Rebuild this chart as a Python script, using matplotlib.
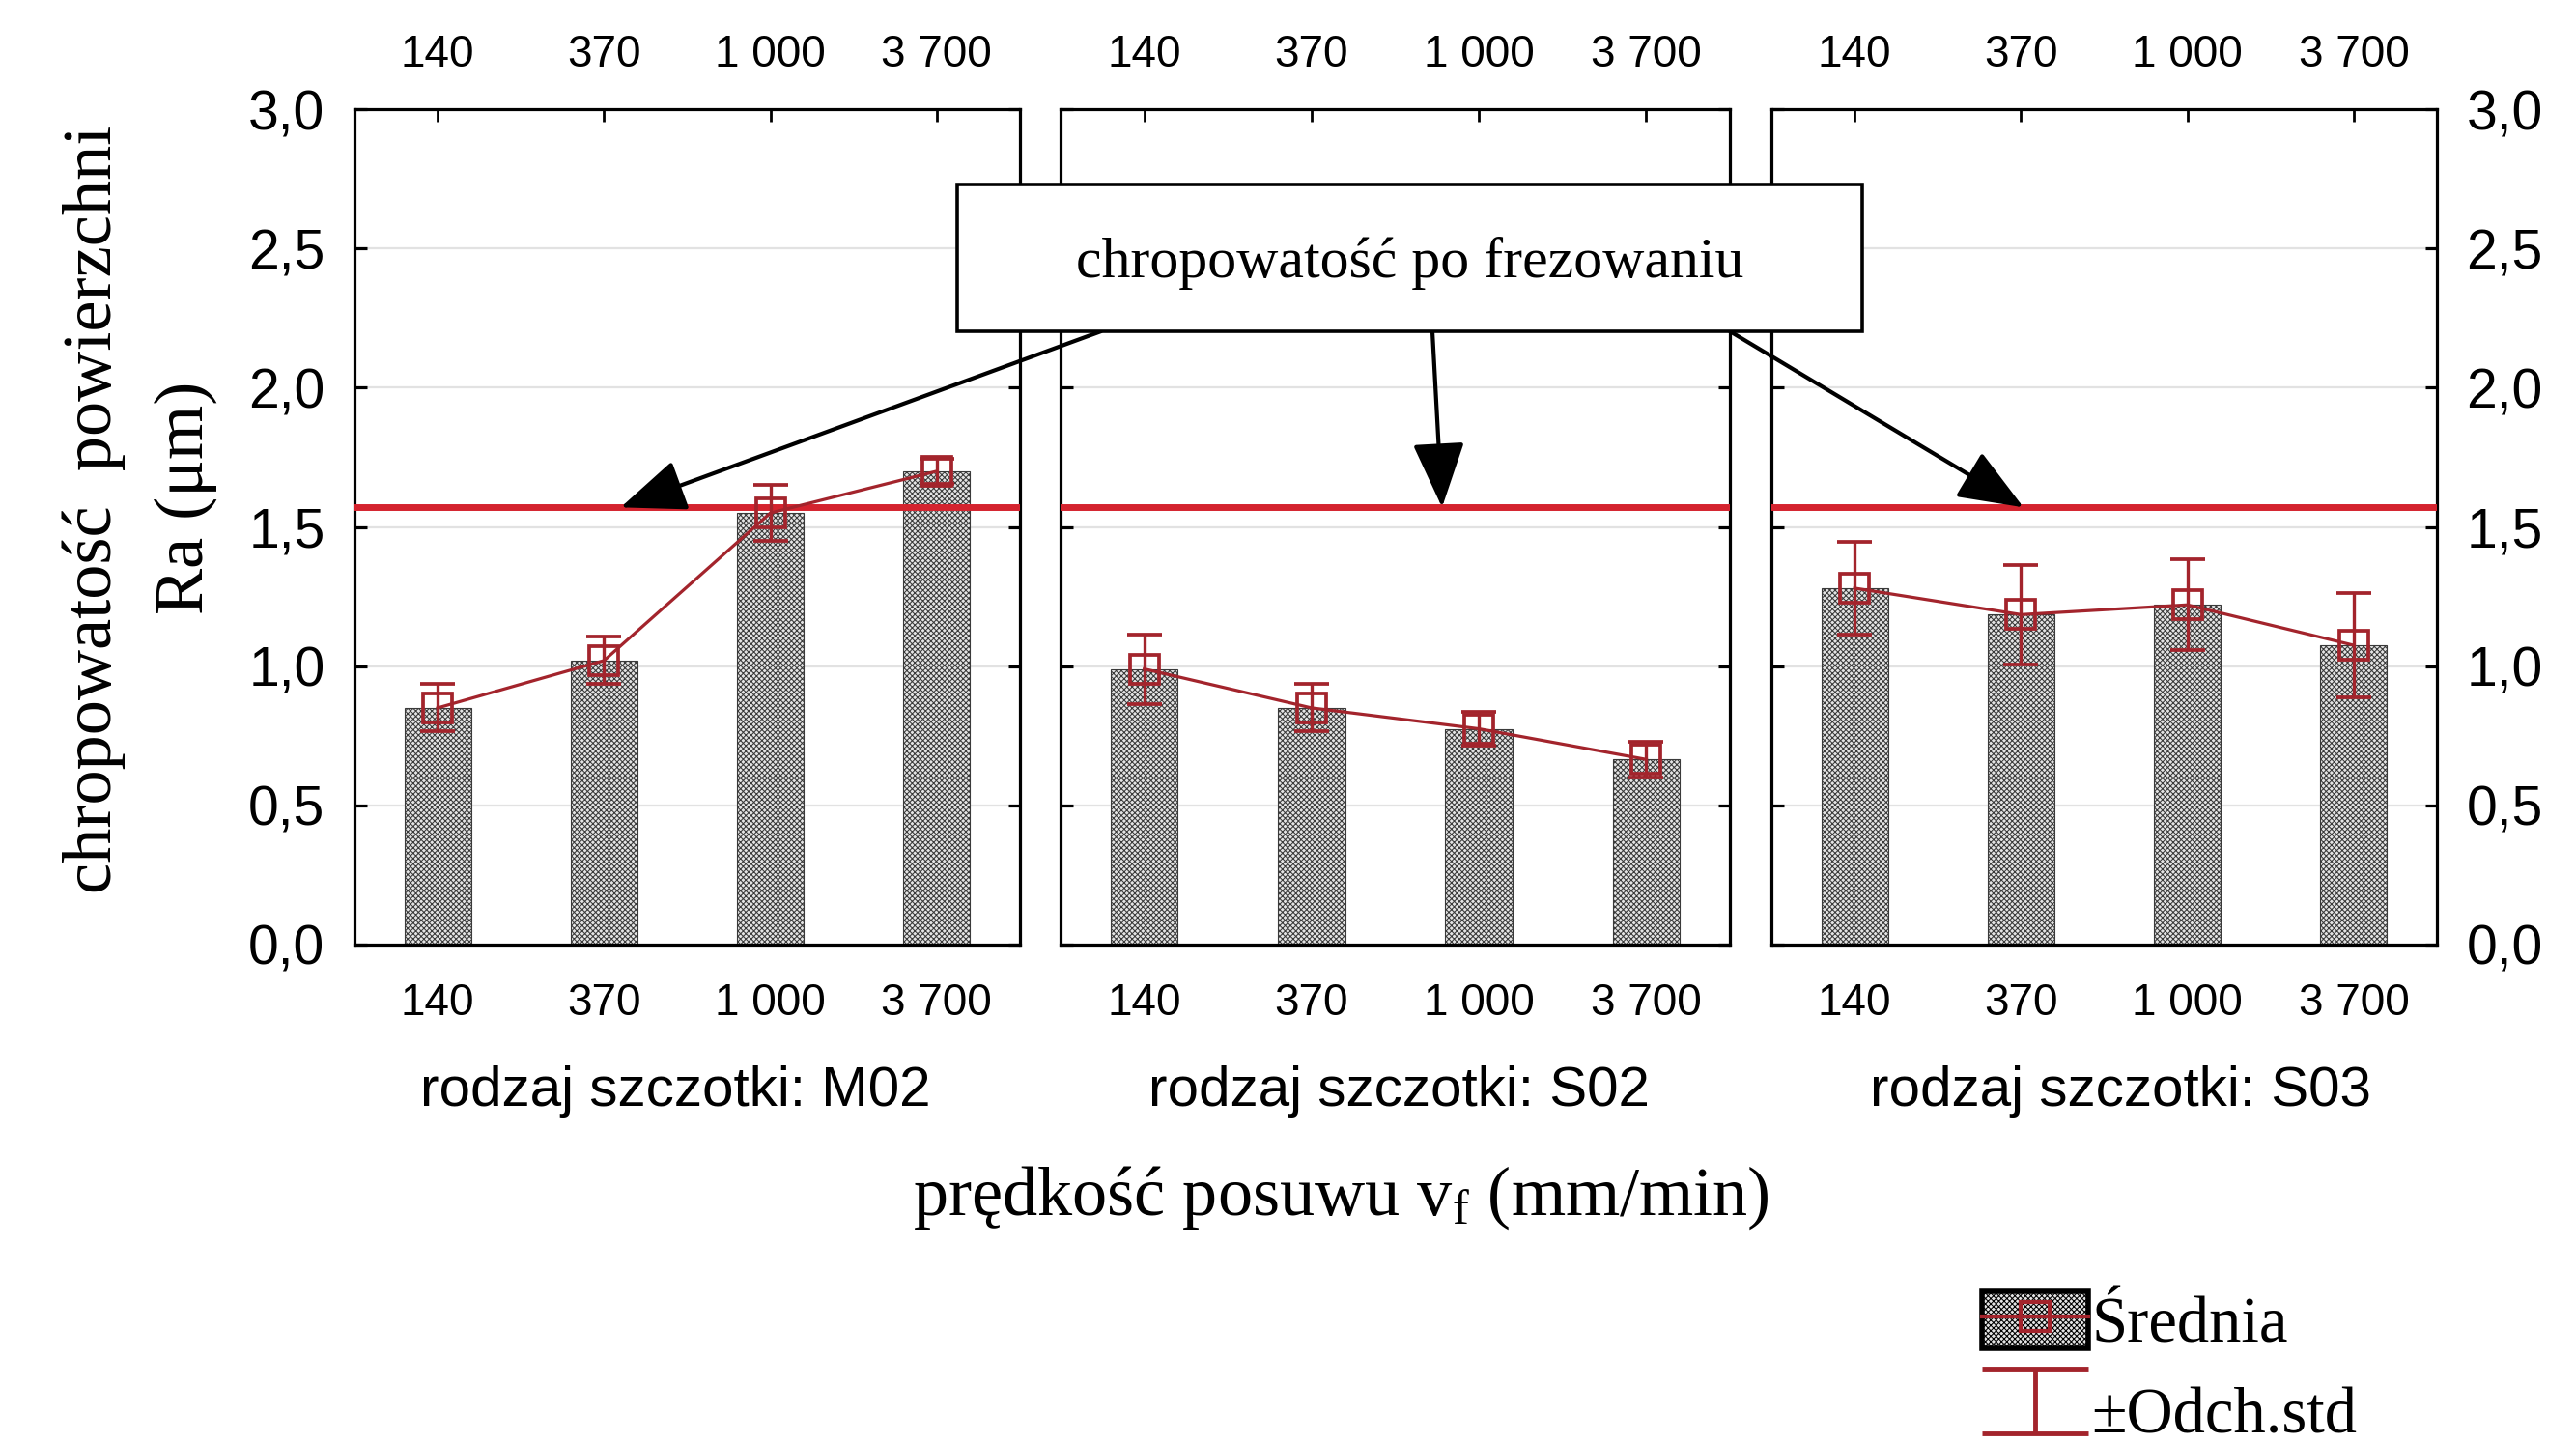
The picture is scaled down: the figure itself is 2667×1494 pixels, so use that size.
import matplotlib
matplotlib.use("Agg")
import matplotlib.pyplot as plt
import matplotlib.transforms as mtrans
from matplotlib.patches import Rectangle, ConnectionPatch
from matplotlib.lines import Line2D
from matplotlib.legend_handler import HandlerBase, HandlerTuple
from matplotlib.ticker import FuncFormatter

# ---------------- data ----------------
feed_labels = ["140", "370", "1 000", "3 700"]
brushes = ["M02", "S02", "S03"]
mean_M02 = [0.85, 1.02, 1.55, 1.70]
std_M02 = [0.085, 0.085, 0.10, 0.045]
mean_S02 = [0.99, 0.85, 0.775, 0.665]
std_S02 = [0.125, 0.085, 0.062, 0.065]
mean_S03 = [1.28, 1.185, 1.22, 1.075]
std_S03 = [0.165, 0.178, 0.163, 0.187]
milling_ra = 1.57
means = [mean_M02, mean_S02, mean_S03]
stds = [std_M02, std_S02, std_S03]

# ---------------- style ----------------
W, H = 2667, 1494
DPI = 100
SANS = ["Liberation Sans", "DejaVu Sans"]
SERIF = ["Liberation Serif", "DejaVu Serif"]
plt.rcParams["font.family"] = SANS
plt.rcParams["mathtext.fontset"] = "custom"
plt.rcParams["mathtext.rm"] = "Liberation Serif"
plt.rcParams["mathtext.it"] = "Liberation Serif:italic"
plt.rcParams["hatch.linewidth"] = 0.75

DARK_RED = "#a3242c"
BRIGHT_RED = "#d4232e"
BAR_FACE = "#e4e4e4"
BAR_EDGE = "#3a3a3a"

fig = plt.figure(figsize=(W / DPI, H / DPI), dpi=DPI)

def fx(px):
    return px / W

def fy(py):
    return 1 - py / H

panel_px = [(367, 1056), (1098, 1791), (1834, 2523)]
subtitle_cx = [699, 1448, 2196]
top_px, bot_px = 113, 978

axes = []
for i, (l, r) in enumerate(panel_px):
    ax = fig.add_axes([fx(l), fy(bot_px), fx(r) - fx(l), fy(top_px) - fy(bot_px)])
    ax.set_facecolor("none")
    x = list(range(len(feed_labels)))
    ax.set_axisbelow(True)
    ax.yaxis.grid(True, color="#e2e2e2", lw=1.6)
    ax.bar(x, means[i], width=0.4, color=BAR_FACE, edgecolor=BAR_EDGE,
           hatch="xxxxxx", lw=0.8, zorder=2)
    ax.axhline(milling_ra, color=BRIGHT_RED, lw=5, zorder=3)
    ax.errorbar(x, means[i], yerr=stds[i], fmt="-s", color=DARK_RED,
                mfc="none", mec=DARK_RED, ms=21, mew=2.7, lw=2.3,
                elinewidth=2.4, capsize=13, capthick=2.6, zorder=4)
    ax.set_xlim(-0.5, 3.5)
    ax.set_ylim(0, 3.0)
    ax.set_xticks(x)
    ax.set_xticklabels(feed_labels)
    ax.set_yticks([0, 0.5, 1.0, 1.5, 2.0, 2.5, 3.0])
    ax.yaxis.set_major_formatter(FuncFormatter(lambda v, p: f"{v:.1f}".replace(".", ",")))
    for s in ax.spines.values():
        s.set_linewidth(2.3)
    ax.tick_params(axis="x", which="both", direction="in", top=True, bottom=True,
                   labeltop=True, labelbottom=True, length=9, width=2,
                   labelsize=33, pad=28)
    ax.tick_params(axis="y", direction="in", left=True, right=True, length=9,
                   width=2.3, labelsize=41, pad=22,
                   labelleft=(i == 0), labelright=(i == 2))
    fig.text(fx(subtitle_cx[i]), fy(1130), f"rodzaj szczotki: {brushes[i]}",
             ha="center", va="center", fontsize=42, family=SANS)
    axes.append(ax)

# top tick labels slightly closer to the frame
shift = mtrans.ScaledTranslation(0, -3.5 / 72, fig.dpi_scale_trans)
for ax in axes:
    for tick in ax.xaxis.get_major_ticks():
        tick.label2.set_transform(tick.label2.get_transform() + shift)

# ---------------- labels ----------------
fig.text(fx(97), fy(527), "chropowatość  powierzchni", rotation=90,
         ha="center", va="center", fontsize=52, family=SERIF)
fig.text(fx(192), fy(515), "Ra (μm)", rotation=90,
         ha="center", va="center", fontsize=52, family=SERIF)
fig.text(fx(1388), fy(1240), "prędkość posuwu v$_{\\mathrm{f}}$ (mm/min)",
         ha="center", va="center", fontsize=52, family=SERIF)

# ---------------- annotation box + arrows ----------------
box = Rectangle((fx(991), fy(343)), fx(1928) - fx(991), fy(191) - fy(343),
                transform=fig.transFigure, facecolor="white", edgecolor="black",
                lw=2.6, zorder=10)
fig.add_artist(box)
fig.text((fx(991) + fx(1928)) / 2, (fy(191) + fy(343)) / 2 - 0.004,
         "chropowatość po frezowaniu", ha="center", va="center",
         fontsize=43, family=SERIF, zorder=11)

arrow_starts_px = [1140, 1483, 1791]
arrow_tips_x = [1.10, 1.78, 1.015]
for ax, sx, tx in zip(axes, arrow_starts_px, arrow_tips_x):
    cp = ConnectionPatch(xyA=(fx(sx), fy(343)), coordsA="figure fraction",
                         xyB=(tx, milling_ra), coordsB=ax.transData,
                         arrowstyle="-|>,head_length=1.05,head_width=0.42",
                         mutation_scale=40, lw=3, color="black", zorder=9)
    fig.add_artist(cp)

# ---------------- legend ----------------
class ErrHandler(HandlerBase):
    def create_artists(self, legend, orig_handle, xdescent, ydescent,
                       width, height, fontsize, trans):
        x0, y0 = -xdescent, -ydescent + 0.12 * height
        h = height * 1.12
        kw = dict(color=DARK_RED, lw=3.5, transform=trans, solid_capstyle="butt")
        return [Line2D([x0, x0 + width], [y0 + h, y0 + h], **kw),
                Line2D([x0, x0 + width], [y0, y0], **kw),
                Line2D([x0 + width / 2] * 2, [y0, y0 + h], **kw)]

class ErrKey:
    pass

patch_h = Rectangle((0, 0), 1, 1, facecolor=BAR_FACE, edgecolor="black",
                    hatch="xxxxxx", lw=4)
line_h = Line2D([], [], color=DARK_RED, lw=3, marker="s", ms=22, mfc="none",
                mec=DARK_RED, mew=3)
leg = fig.legend([(patch_h, line_h), ErrKey()], ["Średnia", "±Odch.std"],
                 handler_map={tuple: HandlerTuple(ndivide=1),
                              ErrKey: ErrHandler()},
                 loc="upper left", bbox_to_anchor=(fx(2045), fy(1330)),
                 frameon=False, handlelength=1.65, handleheight=1.0,
                 handletextpad=0.05, labelspacing=0.42, borderpad=0.1,
                 borderaxespad=0, prop={"family": SERIF, "size": 48})

fig.savefig("out.png", dpi=DPI)
